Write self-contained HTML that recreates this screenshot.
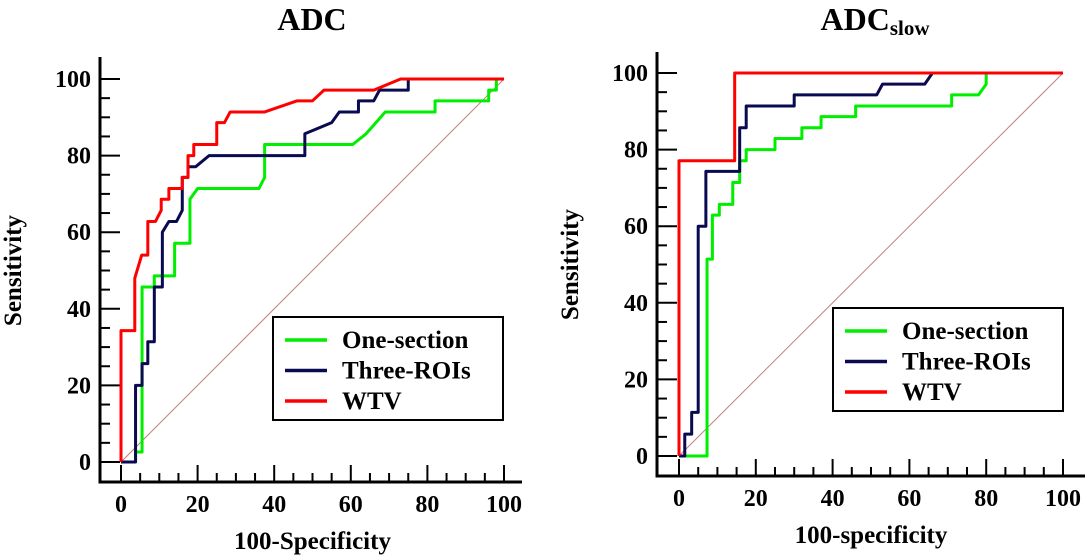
<!DOCTYPE html>
<html><head><meta charset="utf-8"><style>
html,body{margin:0;padding:0;background:#fff}
svg{display:block}
text{font-family:"Liberation Serif",serif;font-weight:bold;fill:#000}
</style></head><body>
<svg id="chart" width="1089" height="555" viewBox="0 0 1089 555"></svg>
<script>
const ticks = [0,20,40,60,80,100];
const seriesNames = ["One-section","Three-ROIs","WTV"];
const seriesColors = ["#00ee00","#0a0a50","#ff0000"];
// Left chart (ADC) ROC points [x,y]
const adcOneSection = [[3.8,0],[3.8,2.6],[5.5,2.6],[5.5,45.7],[8.7,45.7],[8.7,48.6],[14,48.6],[14,57.1],[18,57.1],[18,68.6],[20,71.4],[36,71.4],[37.5,74.3],[37.5,82.9],[60.5,82.9],[64,85.7],[69,91.4],[82,91.4],[82,94.3],[96,94.3],[96,97.1],[98,97.1],[98,100],[100,100]];
const adcThreeROIs = [[0,0],[3.8,0],[3.8,20],[5.5,20],[5.5,25.7],[7,25.7],[7,31.4],[8.7,31.4],[8.7,45.7],[10.8,45.7],[10.8,60],[12.5,62.8],[14.5,62.8],[16,65.7],[16,74.3],[17.5,74.3],[17.5,77.1],[19.5,77.1],[23,80],[48,80],[48,85.7],[55,88.6],[57,91.4],[62,91.4],[62,94.3],[66,94.3],[67.5,97.1],[75,97.1],[75,100],[100,100]];
const adcWTV = [[0,0],[0,34.3],[3.6,34.3],[3.6,48],[5.4,54],[7,54],[7,62.8],[9,62.8],[10.5,65.7],[10.5,68.6],[12.5,68.6],[12.5,71.4],[16,71.4],[16,74.3],[17.5,74.3],[17.5,80],[19,80],[19,82.9],[25,82.9],[25,88.6],[27,88.6],[28.5,91.4],[37.5,91.4],[46,94.3],[50,94.3],[53,97.1],[66,97.1],[73,100],[100,100]];
// Right chart (ADCslow)
const slowOneSection = [[0,0],[7.3,0],[7.3,51.4],[8.7,51.4],[8.7,62.9],[10.5,62.9],[10.5,65.7],[14,65.7],[14,71.4],[15.8,71.4],[15.8,77.1],[17.5,77.1],[17.5,80],[25,80],[25,82.9],[32,82.9],[32,85.7],[37,85.7],[37,88.6],[46,88.6],[46,91.4],[71,91.4],[71,94.3],[78,94.3],[80,97.1],[80,100],[100,100]];
const slowThreeROIs = [[0,0],[1.5,0],[1.5,5.7],[3.3,5.7],[3.3,11.4],[5,11.4],[5,60],[7,60],[7,74.3],[15.8,74.3],[15.8,85.7],[17.5,85.7],[17.5,91.4],[30,91.4],[30,94.3],[51.5,94.3],[53,97.1],[64,97.1],[66,100],[100,100]];
const slowWTV = [[0,0],[0,77.1],[14.5,77.1],[14.5,100],[100,100]];

const svg = document.getElementById('chart');
const NS = 'http://www.w3.org/2000/svg';
function mk(tag, attrs, parent){const e=document.createElementNS(NS,tag);for(const k in attrs)e.setAttribute(k,attrs[k]);(parent||svg).appendChild(e);return e;}

function drawChart(cfg, series){
  const g = mk('g',{});
  
  
  const sx = v => cfg.x0 + (cfg.x1-cfg.x0)*v/100;
  const sy = v => cfg.y0 - (cfg.y0-cfg.y1)*v/100;
  const t = mk('text',{x:cfg.titleX,y:30,'font-size':32,'text-anchor':'middle'},g);
  
  
  t.textContent = cfg.title;
  if(cfg.sub){const ts=mk('tspan',{'font-size':21,dy:5},t);ts.textContent=cfg.sub;}
  const ax = mk('path',{d:`M${cfg.ax},${cfg.axTop} V${cfg.ay} H${cfg.axRight}`,stroke:'#000','stroke-width':3,fill:'none'},g);
  
  
  for(let v=0;v<=100;v+=5){
    const major = v%20===0;
    const yy=sy(v), xx=sx(v);
    mk('line',{x1:cfg.ax,x2:cfg.ax+(major?20:10),y1:yy,y2:yy,stroke:'#000','stroke-width':2},g);
    mk('line',{x1:xx,x2:xx,y1:cfg.ay,y2:cfg.ay-(major?17:9),stroke:'#000','stroke-width':2},g);
  }
  ticks.forEach(v=>{
    const yl=mk('text',{x:cfg.ax-9,y:sy(v)+8,'font-size':24,'text-anchor':'end'},g);
    
    
    yl.textContent=v;
    const xl=mk('text',{x:sx(v),y:cfg.ay+30,'font-size':24,'text-anchor':'middle'},g);
    
    
    xl.textContent=v;
  });
  const xt=mk('text',{x:(cfg.x0+cfg.x1)/2,y:cfg.ay+67,'font-size':25,'text-anchor':'middle'},g);
  
  
  xt.textContent=cfg.xTitle;
  const cy=(cfg.y0+cfg.y1)/2;
  const yt=mk('text',{x:cfg.yTitleX,y:cy,'font-size':25,'text-anchor':'middle',transform:`rotate(-90 ${cfg.yTitleX} ${cy})`},g);
  
  
  yt.textContent='Sensitivity';
  const dg=mk('line',{x1:sx(0),y1:sy(0),x2:sx(100),y2:sy(100),stroke:'#c08080','stroke-width':1},g);
  
  
  series.forEach((pts,i)=>{
    const p=mk('polyline',{points:pts.map(q=>sx(q[0])+','+sy(q[1])).join(' '),fill:'none',stroke:seriesColors[i],'stroke-width':3,'stroke-linejoin':'round'},g);
    
    
  });
  const lg=mk('g',{},g);
  
  
  mk('rect',{x:cfg.lx,y:cfg.ly,width:230,height:103,fill:'#fff',stroke:'#000','stroke-width':2},lg);
  seriesNames.forEach((n,i)=>{
    const yy=cfg.ly+23+i*30.5;
    const e=mk('g',{},lg);
    
    
    mk('line',{x1:cfg.lx+12,x2:cfg.lx+54,y1:yy,y2:yy,stroke:seriesColors[i],'stroke-width':3.5},e);
    const tx=mk('text',{x:cfg.lx+69,y:yy+8,'font-size':25},e);
    tx.textContent=n;
  });
}

drawChart({id:'adc-chart',title:'ADC',titleX:312,x0:121,x1:504,y0:462,y1:79,ax:100,ay:482,axTop:57,axRight:522,xTitle:'100-Specificity',yTitleX:21,lx:273,ly:317},
  [adcOneSection,adcThreeROIs,adcWTV]);
drawChart({id:'adc-slow-chart',title:'ADC',sub:'slow',titleX:875,x0:679,x1:1063,y0:456,y1:73,ax:657,ay:476,axTop:52,axRight:1085,xTitle:'100-specificity',yTitleX:578,lx:833,ly:308},
  [slowOneSection,slowThreeROIs,slowWTV]);
</script>
</body></html>
